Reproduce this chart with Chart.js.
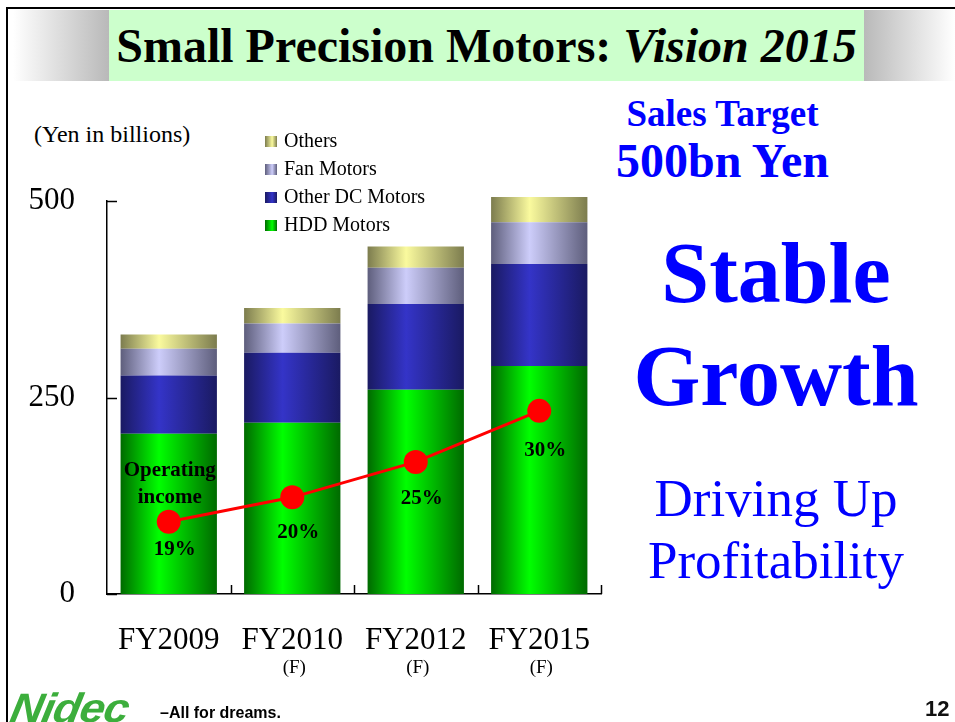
<!DOCTYPE html>
<html>
<head>
<meta charset="utf-8">
<title>Small Precision Motors: Vision 2015</title>
<script src="https://cdn.jsdelivr.net/npm/chart.js@4.4.1/dist/chart.umd.min.js"></script>
<style>
  body { margin: 0; background: #fff; }
  #slide { position: relative; width: 955px; height: 722px; overflow: hidden; background: #fff;
           font-family: 'Liberation Serif', 'Times New Roman', serif; }
  .abs { position: absolute; white-space: nowrap; line-height: 1; }
  #frameTop { left: 6px; top: 7px; width: 949px; height: 2px; background: #000; }
  #frameLeft { left: 6px; top: 7px; width: 2px; height: 715px; background: #000; }
  #fadeL { left: 13px; top: 10px; width: 96px; height: 71px; background: linear-gradient(to right, #fff, #b9b9b9); }
  #titleBox { left: 109px; top: 10px; width: 755px; height: 71px; background: #ccffcc; }
  #fadeR { left: 864px; top: 10px; width: 91px; height: 71px; background: linear-gradient(to right, #b9b9b9, #fff); }
  #title { left: 109px; width: 755px; top: 22px; text-align: center; font-size: 48px; font-weight: bold; color: #000; }
  .blue { color: #0000ff; font-weight: bold; text-align: center; }
  #unit { left: 34px; top: 122px; font-size: 24px; color: #000; }
  #logo { left: 15px; top: 688px; font-family: 'Liberation Sans', sans-serif; font-style: italic; font-weight: bold;
          font-size: 41px; color: #3cae3c; transform: scaleX(1.1) skewX(-10deg); transform-origin: left top; letter-spacing: -1px; }
  #tagline { left: 160px; top: 705px; font-family: 'Liberation Sans', sans-serif; font-weight: bold; font-size: 16px; color: #000; }
  #pageNo { left: 925px; top: 698px; font-family: 'Liberation Sans', sans-serif; font-weight: bold; font-size: 22px; color: #111; }
  #chart { position: absolute; left: 0; top: 0; }
</style>
</head>
<body>
<div id="slide">
  <div class="abs" id="fadeL"></div>
  <div class="abs" id="titleBox"></div>
  <div class="abs" id="fadeR"></div>
  <div class="abs" id="frameTop"></div>
  <div class="abs" id="frameLeft"></div>
  <div class="abs" id="title">Small Precision Motors: <i>Vision 2015</i></div>

  <div class="abs" id="unit">(Yen in billions)</div>

  <div class="abs blue" style="left:600px;width:245px;top:95px;font-size:37px;">Sales Target</div>
  <div class="abs blue" style="left:600px;width:245px;top:137px;font-size:48px;">500bn Yen</div>
  <div class="abs blue" style="left:620px;width:312px;top:230px;font-size:86px;">Stable</div>
  <div class="abs blue" style="left:620px;width:312px;top:333px;font-size:86px;">Growth</div>
  <div class="abs blue" style="left:620px;width:312px;top:472px;font-size:53px;font-weight:normal;">Driving Up</div>
  <div class="abs blue" style="left:620px;width:312px;top:534px;font-size:53px;font-weight:normal;">Profitability</div>

  <canvas id="chart" width="955" height="722"></canvas>

  <div class="abs" id="logo">Nidec</div>
  <div class="abs" id="tagline">–All for dreams.</div>
  <div class="abs" id="pageNo">12</div>
</div>

<script>
// data (Yen in billions)
const fiscalYears = ['FY2009', 'FY2010', 'FY2012', 'FY2015'];
const forecastMark = ['', '(F)', '(F)', '(F)'];
const hddMotors = [204, 218, 260, 290];
const otherDcMotors = [74, 89, 109, 130];
const fanMotors = [34, 37, 46, 53];
const others = [18, 20, 27, 32];
const opIncomeLine = [92, 123, 168, 233];
const marginLabels = ['19%', '20%', '25%', '30%'];
const yTicks = [0, 250, 500];

const BAR_PCT = 0.78;
const SERIF = "'Liberation Serif', 'Times New Roman', serif";

// cylinder look: dark edges, bright middle
function cylinder(edge, mid) {
  return function (context) {
    const chart = context.chart;
    const xs = chart.scales.x;
    if (!xs || !chart.chartArea || context.dataIndex === undefined) return mid;
    const cx = xs.getPixelForValue(context.dataIndex);
    const half = xs.width / fiscalYears.length * BAR_PCT / 2;
    const g = chart.ctx.createLinearGradient(cx - half, 0, cx + half, 0);
    g.addColorStop(0, edge);
    g.addColorStop(0.4, mid);
    g.addColorStop(1, edge);
    return g;
  };
}

const barStyles = [
  { label: 'HDD Motors', edge: '#006a00', mid: '#00ff00' },
  { label: 'Other DC Motors', edge: '#1a1a62', mid: '#3434c8' },
  { label: 'Fan Motors', edge: '#5e5e7c', mid: '#cdcdfa' },
  { label: 'Others', edge: '#7c7c4e', mid: '#fafa9e' }
];
const barValues = [hddMotors, otherDcMotors, fanMotors, others];

const marginLabelDy = [33, 41, 42, 45];

const slideDecor = {
  id: 'slideDecor',
  afterDraw(chart) {
    const ctx = chart.ctx;
    const xs = chart.scales.x;
    const ys = chart.scales.y;
    const area = chart.chartArea;
    ctx.save();
    ctx.strokeStyle = '#000';
    ctx.lineWidth = 1.5;

    // inward ticks on y axis
    yTicks.forEach(v => {
      const y = Math.round(ys.getPixelForValue(v)) + 0.5;
      ctx.beginPath();
      ctx.moveTo(area.left, y);
      ctx.lineTo(area.left + 10, y);
      ctx.stroke();
    });
    // ticks between categories, pointing up
    const step = xs.width / fiscalYears.length;
    for (let i = 1; i <= fiscalYears.length; i++) {
      const x = Math.round(xs.left + step * i) + 0.5;
      ctx.beginPath();
      ctx.moveTo(x, area.bottom);
      ctx.lineTo(x, area.bottom - 9);
      ctx.stroke();
    }

    // (F) under the year labels
    ctx.fillStyle = '#000';
    ctx.font = '19px ' + SERIF;
    ctx.textAlign = 'center';
    ctx.textBaseline = 'alphabetic';
    forecastMark.forEach((m, i) => {
      if (m) ctx.fillText(m, xs.getPixelForValue(i) + 2, 673);
    });

    // legend, top item first
    ctx.font = '20px ' + SERIF;
    ctx.textAlign = 'left';
    ctx.textBaseline = 'middle';
    const legendX = 265, legendY = 141, rowH = 28;
    barStyles.slice().reverse().forEach((s, k) => {
      const y = legendY + k * rowH;
      const g = ctx.createLinearGradient(legendX, 0, legendX + 12, 0);
      g.addColorStop(0, s.edge);
      g.addColorStop(0.6, s.mid);
      g.addColorStop(1, s.edge);
      ctx.fillStyle = g;
      ctx.fillRect(legendX, y - 5, 12, 11);
      ctx.fillStyle = '#000';
      ctx.fillText(s.label, legendX + 19, y + 1);
    });

    // margin labels under the line points
    const pts = chart.getDatasetMeta(4).data;
    ctx.font = 'bold 21px ' + SERIF;
    ctx.textAlign = 'center';
    ctx.textBaseline = 'alphabetic';
    pts.forEach((p, i) => {
      ctx.fillText(marginLabels[i], p.x + 6, p.y + marginLabelDy[i]);
    });
    ctx.fillText('Operating', pts[0].x + 1, pts[0].y - 46);
    ctx.fillText('income', pts[0].x + 1, pts[0].y - 19);
    ctx.restore();
  }
};

const datasets = barStyles.map((s, i) => ({
  type: 'bar',
  label: s.label,
  data: barValues[i],
  backgroundColor: cylinder(s.edge, s.mid),
  borderWidth: 0,
  barPercentage: BAR_PCT,
  categoryPercentage: 1,
  stack: 'sales',
  clip: false,
  order: 2
}));
datasets.push({
  type: 'line',
  label: 'Operating income',
  data: opIncomeLine,
  borderColor: '#ff0000',
  borderWidth: 3,
  pointRadius: 12,
  pointBackgroundColor: '#ff0000',
  pointBorderWidth: 0,
  clip: false,
  order: 1
});

new Chart(document.getElementById('chart'), {
  data: { labels: fiscalYears, datasets: datasets },
  plugins: [slideDecor],
  options: {
    responsive: false,
    animation: false,
    layout: { padding: { left: 0, right: 354, top: 201, bottom: 0 } },
    plugins: { legend: { display: false }, tooltip: { enabled: false } },
    scales: {
      x: {
        stacked: true,
        grid: { display: false, drawTicks: false },
        border: { display: true, color: '#000', width: 1.5 },
        ticks: { color: '#000', font: { family: SERIF, size: 31 }, padding: 28, maxRotation: 0 },
        afterFit(scale) { scale.height = 128; }
      },
      y: {
        stacked: true,
        min: 0,
        max: 500,
        grid: { display: false, drawTicks: false },
        border: { display: true, color: '#000', width: 1.5 },
        ticks: { stepSize: 250, color: '#000', font: { family: SERIF, size: 31 }, padding: 32 },
        afterFit(scale) { scale.width = 107; }
      }
    }
  }
});
</script>
</body>
</html>
